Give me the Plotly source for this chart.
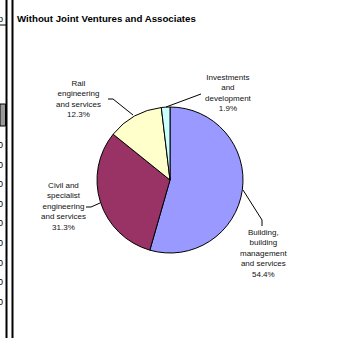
import plotly.graph_objects as go

# ---- data ----
segments = ["Building, building management and services",
            "Civil and specialist engineering and services",
            "Rail engineering and services",
            "Investments and development"]
shares = [54.4, 31.3, 12.3, 1.9]
label_lines = ["Building,<br>building<br>management<br>and services",
               "Civil and<br>specialist<br>engineering<br>and services",
               "Rail<br>engineering<br>and services",
               "Investments<br>and<br>development"]
slice_colors = ["#9999FF", "#993366", "#FFFFCC", "#CCFFFF"]
title_text = "Without Joint Ventures and Associates"

W, H = 341, 338


def px(x):
    return x / W


def py(y):
    return 1 - y / H


cx, cy, r = 170, 180, 73

fig = go.Figure(go.Pie(
    labels=segments,
    values=shares,
    sort=False,
    direction="clockwise",
    rotation=0,
    textinfo="none",
    hoverinfo="label+percent",
    marker=dict(colors=slice_colors, line=dict(color="black", width=1)),
    domain=dict(x=[px(cx - r), px(cx + r)], y=[py(cy + r), py(cy - r)]),
    showlegend=False,
))

label_pos = [(263, 253), (63, 206.5), (78, 98.5), (228, 92.5)]
annotations = []
for (lx, ly), txt, val in zip(label_pos, label_lines, shares):
    annotations.append(dict(
        x=px(lx), y=py(ly), xref="paper", yref="paper",
        text=f"{txt}<br>{val:.1f}%", showarrow=False,
        xanchor="center", yanchor="middle", align="center",
        font=dict(family="Liberation Sans, Arial", size=8, color="#111111"),
    ))

annotations.append(dict(
    x=px(15), y=py(19), xref="paper", yref="paper", text=f"<b>{title_text}</b>",
    showarrow=False, xanchor="left", yanchor="middle",
    font=dict(family="Liberation Sans, Arial", size=9.7, color="black"),
))

# partial table artifacts at left edge
annotations.append(dict(
    x=px(4.5), y=py(19), xref="paper", yref="paper", text="p",
    showarrow=False, xanchor="right", yanchor="middle",
    font=dict(family="Liberation Sans, Arial", size=9, color="black"),
))
for i in range(9):
    annotations.append(dict(
        x=px(4.5), y=py(145 + i * 19.6), xref="paper", yref="paper", text="0",
        showarrow=False, xanchor="right", yanchor="middle",
        font=dict(family="Liberation Sans, Arial", size=9, color="black"),
    ))


def path(pts):
    return "M " + " L ".join(f"{px(x)},{py(y)}" for x, y in pts)


leaders = [
    [(243, 190), (262, 220), (262, 226)],
    [(86, 207), (91, 207), (100, 203)],
    [(108, 99), (113, 99), (133, 115)],
    [(201, 94), (166, 107)],
]
shapes = [dict(type="path", path=path(p), xref="paper", yref="paper",
               line=dict(color="black", width=1)) for p in leaders]

# left frame lines
shapes += [
    dict(type="line", xref="paper", yref="paper", x0=px(6.5), x1=px(6.5), y0=0, y1=1,
         line=dict(color="black", width=2)),
    dict(type="line", xref="paper", yref="paper", x0=px(12.5), x1=px(12.5), y0=0, y1=1,
         line=dict(color="black", width=2)),
    dict(type="line", xref="paper", yref="paper", x0=0, x1=px(6), y0=py(25), y1=py(25),
         line=dict(color="black", width=1)),
    dict(type="rect", xref="paper", yref="paper", x0=0, x1=px(5.5), y0=py(126), y1=py(104),
         fillcolor="#999999", line=dict(color="black", width=1)),
]

fig.update_layout(
    width=W, height=H,
    margin=dict(l=0, r=0, t=0, b=0),
    paper_bgcolor="white", plot_bgcolor="white",
    annotations=annotations, shapes=shapes,
)

fig.write_html("out.html",
               config={"displayModeBar": False},
               post_script="document.body.style.margin='0';document.body.style.overflow='hidden';")
